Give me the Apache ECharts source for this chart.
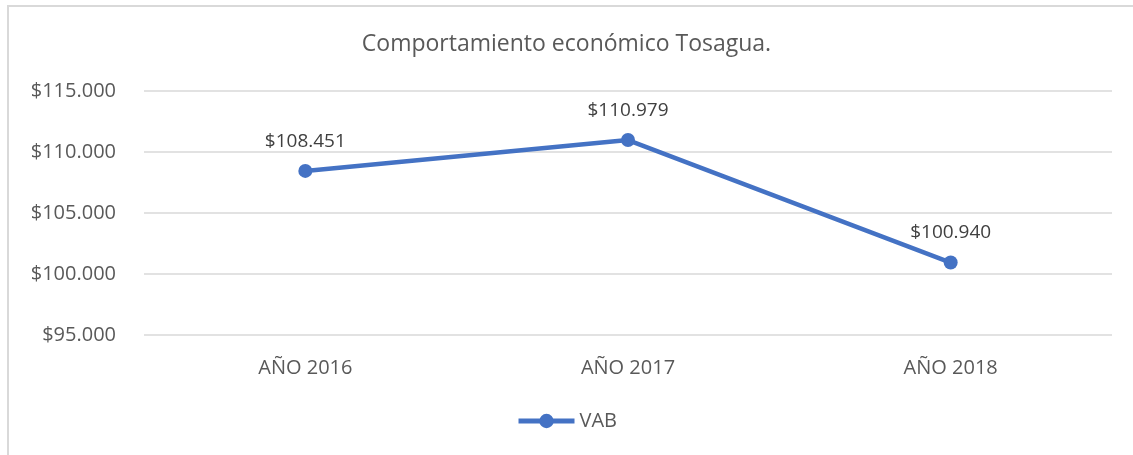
<!DOCTYPE html>
<html>
<head>
<meta charset="utf-8">
<script src="https://cdn.jsdelivr.net/npm/echarts@6/dist/echarts.min.js"></script>
<style>
html,body{margin:0;padding:0;background:#fff;}
#frame{position:absolute;left:7px;top:5px;width:1140px;height:460px;border:2px solid #d9d9d9;box-sizing:border-box;}
#mainChart{position:absolute;left:0;top:0;width:1133px;height:455px;}
</style>
</head>
<body>
<div id="frame"></div>
<div id="mainChart"></div>
<script>
var categories=['AÑO 2016','AÑO 2017','AÑO 2018'];
var vab=[108451,110979,100940];
var yTicks=[95000,100000,105000,110000,115000];

function money(v){
    return '$'+String(v).replace(/\B(?=(\d{3})+(?!\d))/g,'.');
}

var chart=echarts.init(document.getElementById('mainChart'));
var font='"Open Sans", "Liberation Sans", sans-serif';
chart.setOption({
    animation:false,
    textStyle:{fontFamily:font},
    title:{text:'Comportamiento económico Tosagua.',left:'center',top:28,
        textStyle:{fontFamily:font,fontSize:23,fontWeight:'normal',color:'#595959'}},
    legend:{bottom:19,left:'center',itemWidth:56,itemHeight:18,itemGap:4,
        lineStyle:{width:5},
        textStyle:{fontFamily:font,fontSize:20,color:'#595959'},
        data:['VAB']},
    grid:{left:144,right:21,top:91,bottom:120},
    xAxis:{type:'category',data:categories,boundaryGap:true,
        axisLine:{show:false},axisTick:{show:false},
        axisLabel:{fontFamily:font,fontSize:20,color:'#595959',margin:23}},
    yAxis:{type:'value',min:yTicks[0],max:yTicks[yTicks.length-1],interval:5000,
        axisLine:{show:false},axisTick:{show:false},
        splitLine:{lineStyle:{color:'#d9d9d9',width:1.5}},
        axisLabel:{fontFamily:font,fontSize:20,color:'#595959',margin:28,formatter:money}},
    series:[{name:'VAB',type:'line',data:vab,
        symbol:'circle',symbolSize:14,
        lineStyle:{color:'#4472c4',width:4.5},
        itemStyle:{color:'#4472c4'},
        label:{show:true,position:'top',distance:13,formatter:function(p){return money(p.value);},
            fontFamily:font,fontSize:19,color:'#404040'}}]
});
</script>
</body>
</html>
